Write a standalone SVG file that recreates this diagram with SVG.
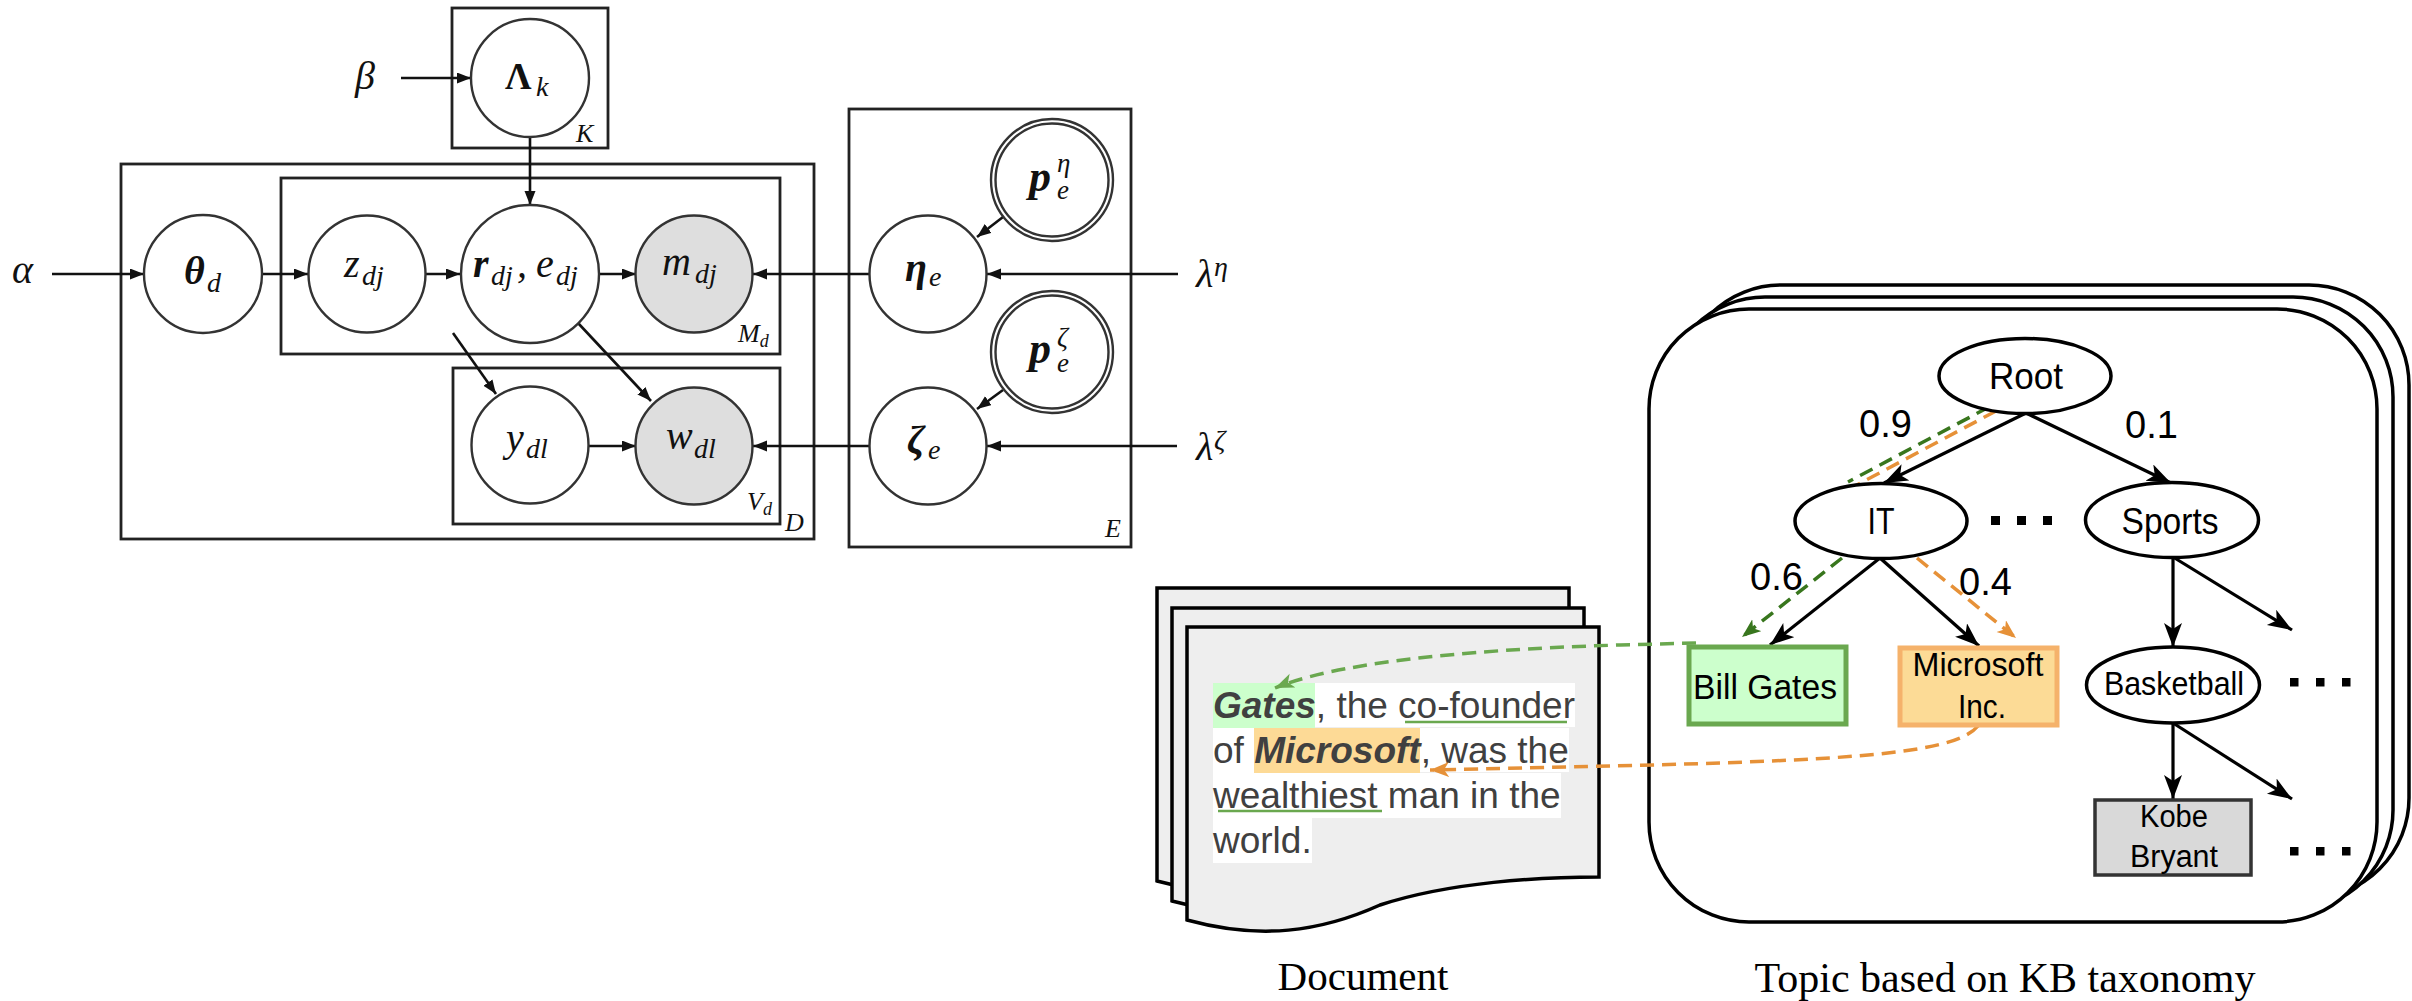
<svg xmlns="http://www.w3.org/2000/svg" width="2412" height="1001" viewBox="0 0 2412 1001">
  <style>
    .plate { fill: none; stroke: #222; stroke-width: 2.8; }
    .rv { fill: #fff; stroke: #333; stroke-width: 2.4; }
    .obs { fill: #dedede; stroke: #333; stroke-width: 2.4; }
    .pl { stroke: #111; stroke-width: 2.6; fill: none; }
    .m { font-family: "Liberation Serif", "Times New Roman", serif; font-style: italic; fill: #111; }
    .mb { font-family: "Liberation Serif", "Times New Roman", serif; font-style: italic; font-weight: bold; fill: #111; }
    .big { font-size: 40px; }
    .sub { font-size: 28px; }
    .plab { font-size: 26px; }
    .kb { fill: #fff; stroke: #000; stroke-width: 3.5; }
    .tn { fill: #fff; stroke: #000; stroke-width: 3.5; }
    .te { stroke: #000; stroke-width: 3.2; fill: none; }
    .tt { font-family: "Liberation Sans", Arial, sans-serif; fill: #000; text-anchor: middle; }
    .num { font-family: "Liberation Sans", Arial, sans-serif; fill: #000; font-size: 38px; }
    .page { fill: #eeeeee; stroke: #000; stroke-width: 3.5; }
    .doc { font-family: "Liberation Sans", Arial, sans-serif; font-size: 37px; fill: #404040; }
    .cap { font-family: "Liberation Serif", "Times New Roman", serif; fill: #000; text-anchor: middle; }
    .dot { fill: #000; }
  </style>
  <defs>
    <marker id="pa" markerUnits="userSpaceOnUse" markerWidth="15" markerHeight="12" refX="14" refY="5.5" orient="auto">
      <path d="M0,0 L14,5.5 L0,11 z" fill="#111"/>
    </marker>
    <marker id="ta" markerUnits="userSpaceOnUse" markerWidth="26" markerHeight="20" refX="24" refY="9" orient="auto">
      <path d="M0,0 L24,9 L0,18 L6,9 z" fill="#000"/>
    </marker>
    <marker id="ga" markerUnits="userSpaceOnUse" markerWidth="22" markerHeight="16" refX="19" refY="7.5" orient="auto">
      <path d="M0,0 L19,7.5 L0,15 L5,7.5 z" fill="#38761d"/>
    </marker>
    <marker id="gla" markerUnits="userSpaceOnUse" markerWidth="22" markerHeight="16" refX="19" refY="7.5" orient="auto">
      <path d="M0,0 L19,7.5 L0,15 L5,7.5 z" fill="#6aa84f"/>
    </marker>
    <marker id="oa" markerUnits="userSpaceOnUse" markerWidth="22" markerHeight="16" refX="19" refY="7.5" orient="auto">
      <path d="M0,0 L19,7.5 L0,15 L5,7.5 z" fill="#e69138"/>
    </marker>
    <path id="pageShape" d="M0,0 H412 V250 C353,250 263,255 193,278 C133,305 73,313 0,293 Z"/>
  </defs>

  <!-- ===== Graphical model ===== -->
  <g id="plates">
    <rect class="plate" x="452" y="8" width="156" height="140"/>
    <rect class="plate" x="121" y="164" width="693" height="375"/>
    <rect class="plate" x="281" y="178" width="499" height="176"/>
    <rect class="plate" x="453" y="368" width="327" height="156"/>
    <rect class="plate" x="849" y="109" width="282" height="438"/>
    <text class="m plab" x="576" y="142">K</text>
    <text class="m plab" x="738" y="342">M<tspan font-size="18" dy="5">d</tspan></text>
    <text class="m plab" x="747" y="510">V<tspan font-size="18" dy="5">d</tspan></text>
    <text class="m plab" x="785" y="531">D</text>
    <text class="m plab" x="1105" y="537">E</text>
  </g>

  <g id="pgm-edges">
    <line class="pl" x1="52" y1="274" x2="144" y2="274" marker-end="url(#pa)"/>
    <line class="pl" x1="401" y1="78" x2="471" y2="78" marker-end="url(#pa)"/>
    <line class="pl" x1="530" y1="137" x2="530" y2="205" marker-end="url(#pa)"/>
    <line class="pl" x1="262" y1="274" x2="308" y2="274" marker-end="url(#pa)"/>
    <line class="pl" x1="425" y1="274" x2="460" y2="274" marker-end="url(#pa)"/>
    <line class="pl" x1="599" y1="274" x2="636" y2="274" marker-end="url(#pa)"/>
    <line class="pl" x1="869" y1="274" x2="753" y2="274" marker-end="url(#pa)"/>
    <line class="pl" x1="1178" y1="274" x2="987" y2="274" marker-end="url(#pa)"/>
    <line class="pl" x1="588" y1="446" x2="636" y2="446" marker-end="url(#pa)"/>
    <line class="pl" x1="869" y1="446" x2="753" y2="446" marker-end="url(#pa)"/>
    <line class="pl" x1="1177" y1="446" x2="987" y2="446" marker-end="url(#pa)"/>
    <line class="pl" x1="1003" y1="217" x2="977" y2="237" marker-end="url(#pa)"/>
    <line class="pl" x1="1003" y1="390" x2="977" y2="409" marker-end="url(#pa)"/>
    <line class="pl" x1="453" y1="333" x2="496" y2="394" marker-end="url(#pa)"/>
    <line class="pl" x1="578" y1="323" x2="651" y2="401" marker-end="url(#pa)"/>
  </g>

  <g id="alpha"><text class="m big" x="12" y="283">α</text></g>
  <g id="beta"><text class="m big" x="355" y="89">β</text></g>
  <g id="lambda-eta"><text class="m big" x="1196" y="287">λ<tspan class="sub" x="1214" y="276">η</tspan></text></g>
  <g id="lambda-zeta"><text class="m big" x="1196" y="460">λ<tspan class="sub" x="1214" y="449">ζ</tspan></text></g>

  <g id="Lambda">
    <circle class="rv" cx="530" cy="78" r="59"/>
    <text x="505" y="89" font-family="Liberation Serif, serif" font-weight="bold" font-size="37" fill="#111">Λ<tspan class="m sub" font-weight="normal" x="536" y="96">k</tspan></text>
  </g>
  <g id="theta">
    <circle class="rv" cx="203" cy="274" r="59"/>
    <text class="mb big" x="184" y="284">θ<tspan class="m sub" font-weight="normal" x="207" y="292">d</tspan></text>
  </g>
  <g id="z">
    <circle class="rv" cx="367" cy="274" r="58.5"/>
    <text class="m big" x="344" y="277">z<tspan class="sub" x="362" y="285">dj</tspan></text>
  </g>
  <g id="r-e">
    <circle class="rv" cx="530" cy="274" r="69"/>
    <text class="m big" x="473" y="277"><tspan class="mb">r</tspan><tspan class="sub" x="491" y="285">dj</tspan><tspan x="517" y="277">,</tspan><tspan x="536" y="277">e</tspan><tspan class="sub" x="556" y="285">dj</tspan></text>
  </g>
  <g id="m">
    <circle class="obs" cx="694" cy="274" r="58.5"/>
    <text class="m big" x="662" y="275">m<tspan class="sub" x="695" y="283">dj</tspan></text>
  </g>
  <g id="y">
    <circle class="rv" cx="530" cy="445" r="58.5"/>
    <text class="m big" x="506" y="451">y<tspan class="sub" x="526" y="458">dl</tspan></text>
  </g>
  <g id="w">
    <circle class="obs" cx="694" cy="446" r="58.5"/>
    <text class="m big" x="666" y="449">w<tspan class="sub" x="694" y="458">dl</tspan></text>
  </g>
  <g id="eta">
    <circle class="rv" cx="928" cy="274" r="58.5"/>
    <text class="mb big" x="905" y="281">η<tspan class="m sub" font-weight="normal" x="929" y="286">e</tspan></text>
  </g>
  <g id="zeta">
    <circle class="rv" cx="928" cy="446" r="58.5"/>
    <text class="mb big" x="907" y="453">ζ<tspan class="m sub" font-weight="normal" x="928" y="459">e</tspan></text>
  </g>
  <g id="p-eta">
    <circle class="rv" cx="1052" cy="180" r="61"/>
    <circle class="rv" cx="1052" cy="180" r="56.5"/>
    <text class="mb" font-size="44" x="1029" y="191">p</text>
    <text class="m" font-size="27" x="1057" y="172">η</text>
    <text class="m" font-size="27" x="1057" y="199">e</text>
  </g>
  <g id="p-zeta">
    <circle class="rv" cx="1052" cy="352" r="61"/>
    <circle class="rv" cx="1052" cy="352" r="56.5"/>
    <text class="mb" font-size="44" x="1029" y="363">p</text>
    <text class="m" font-size="27" x="1057" y="346">ζ</text>
    <text class="m" font-size="27" x="1057" y="372">e</text>
  </g>

  <!-- ===== Document stack ===== -->
  <g id="document">
    <use href="#pageShape" class="page" x="1157" y="588"/>
    <use href="#pageShape" class="page" x="1172" y="608"/>
    <use href="#pageShape" class="page" x="1187" y="627"/>
    <rect x="1213" y="683" width="102" height="45" fill="#ccffcc"/>
    <rect x="1315" y="683" width="260" height="44" fill="#fff"/>
    <rect x="1213" y="728" width="41" height="45" fill="#fff"/>
    <rect x="1254" y="728" width="166" height="45" fill="#fdda96"/>
    <rect x="1420" y="728" width="149" height="44" fill="#fff"/>
    <rect x="1213" y="773" width="348" height="45" fill="#fff"/>
    <rect x="1213" y="818" width="99" height="45" fill="#fff"/>
    <text class="doc" x="1213" y="718"><tspan font-weight="bold" font-style="italic">Gates</tspan>, the co-founder</text>
    <text class="doc" x="1213" y="763">of <tspan font-weight="bold" font-style="italic">Microsoft</tspan>, was the</text>
    <text class="doc" x="1213" y="808">wealthiest man in the</text>
    <text class="doc" x="1213" y="853">world.</text>
    <line x1="1405" y1="722" x2="1567" y2="722" stroke="#6aa84f" stroke-width="2.5"/>
    <line x1="1218" y1="811" x2="1382" y2="811" stroke="#6aa84f" stroke-width="2.5"/>
  </g>
  <g id="document-label"><text class="cap" font-size="41" x="1363" y="990">Document</text></g>

  <!-- ===== KB taxonomy stack ===== -->
  <g id="taxonomy-frame">
    <rect class="kb" x="1681" y="285" width="728" height="613" rx="100"/>
    <rect class="kb" x="1665" y="297" width="728" height="613" rx="100"/>
    <rect class="kb" x="1649" y="309" width="728" height="613" rx="100"/>
  </g>
  <g id="taxonomy-label"><text class="cap" font-size="42" x="2005" y="992">Topic based on KB taxonomy</text></g>

  <g id="tree-edges">
    <line class="te" x1="2026" y1="413" x2="1884" y2="483" marker-end="url(#ta)"/>
    <line class="te" x1="2026" y1="413" x2="2171" y2="483" marker-end="url(#ta)"/>
    <line class="te" x1="1880" y1="558" x2="1770" y2="645" marker-end="url(#ta)"/>
    <line class="te" x1="1880" y1="558" x2="1979" y2="646" marker-end="url(#ta)"/>
    <line class="te" x1="2173" y1="557" x2="2173" y2="647" marker-end="url(#ta)"/>
    <line class="te" x1="2173" y1="557" x2="2292" y2="630" marker-end="url(#ta)"/>
    <line class="te" x1="2173" y1="723" x2="2173" y2="799" marker-end="url(#ta)"/>
    <line class="te" x1="2173" y1="723" x2="2292" y2="799" marker-end="url(#ta)"/>
  </g>

  <g id="entity-paths">
    <path d="M1989,407 L1848,482 M1842,558 L1742,637" fill="none" stroke="#38761d" stroke-width="3.5" stroke-dasharray="14,8" marker-end="url(#ga)"/>
    <path d="M1996,411 L1855,486 M1917,558 L2016,638" fill="none" stroke="#e69138" stroke-width="3.5" stroke-dasharray="14,8" marker-end="url(#oa)"/>
    <path d="M1696,643 L1620,645 C1450,650 1330,665 1275,688" fill="none" stroke="#6aa84f" stroke-width="3.5" stroke-dasharray="14,8" marker-end="url(#gla)"/>
    <path d="M1978,726 C1950,760 1800,762 1430,770" fill="none" stroke="#e69138" stroke-width="3.5" stroke-dasharray="14,8" marker-end="url(#oa)"/>
  </g>

  <g id="Root">
    <ellipse class="tn" cx="2025" cy="376" rx="86" ry="37.5"/>
    <text class="tt" font-size="37" x="2026" y="389" textLength="74" lengthAdjust="spacingAndGlyphs">Root</text>
  </g>
  <g id="IT">
    <ellipse class="tn" cx="1881" cy="521" rx="86" ry="37.5"/>
    <text class="tt" font-size="37" x="1881" y="534" textLength="27" lengthAdjust="spacingAndGlyphs">IT</text>
  </g>
  <g id="Sports">
    <ellipse class="tn" cx="2172" cy="520" rx="86.5" ry="37.5"/>
    <text class="tt" font-size="37" x="2170" y="534" textLength="97" lengthAdjust="spacingAndGlyphs">Sports</text>
  </g>
  <g id="Basketball">
    <ellipse class="tn" cx="2173" cy="685" rx="86.5" ry="38"/>
    <text class="tt" font-size="33" x="2174" y="695" textLength="140" lengthAdjust="spacingAndGlyphs">Basketball</text>
  </g>
  <g id="BillGates">
    <rect x="1689" y="647" width="157" height="77" fill="#ccffcc" stroke="#6aa84f" stroke-width="5"/>
    <text class="tt" font-size="35" x="1765" y="699" textLength="144" lengthAdjust="spacingAndGlyphs">Bill Gates</text>
  </g>
  <g id="MicrosoftInc">
    <rect x="1900" y="648" width="157" height="77" fill="#fcdb96" stroke="#f5b26b" stroke-width="5"/>
    <text class="tt" font-size="34" x="1978" y="676" textLength="131" lengthAdjust="spacingAndGlyphs">Microsoft</text>
    <text class="tt" font-size="34" x="1982" y="718" textLength="48" lengthAdjust="spacingAndGlyphs">Inc.</text>
  </g>
  <g id="KobeBryant">
    <rect x="2095" y="800" width="156" height="75" fill="#d9d9d9" stroke="#333" stroke-width="3.5"/>
    <text class="tt" font-size="31" x="2174" y="827" textLength="68" lengthAdjust="spacingAndGlyphs">Kobe</text>
    <text class="tt" font-size="31" x="2174" y="867" textLength="88" lengthAdjust="spacingAndGlyphs">Bryant</text>
  </g>

  <g id="weights">
    <text class="num" x="1859" y="437">0.9</text>
    <text class="num" x="2125" y="438">0.1</text>
    <text class="num" x="1750" y="590">0.6</text>
    <text class="num" x="1959" y="595">0.4</text>
  </g>

  <g id="ellipses">
    <rect class="dot" x="1991" y="516" width="9" height="9"/>
    <rect class="dot" x="2017" y="516" width="9" height="9"/>
    <rect class="dot" x="2043" y="516" width="9" height="9"/>
    <rect class="dot" x="2290" y="678" width="8.5" height="8.5"/>
    <rect class="dot" x="2316" y="678" width="8.5" height="8.5"/>
    <rect class="dot" x="2342" y="678" width="8.5" height="8.5"/>
    <rect class="dot" x="2290" y="847" width="8.5" height="8.5"/>
    <rect class="dot" x="2316" y="847" width="8.5" height="8.5"/>
    <rect class="dot" x="2342" y="847" width="8.5" height="8.5"/>
  </g>
</svg>
